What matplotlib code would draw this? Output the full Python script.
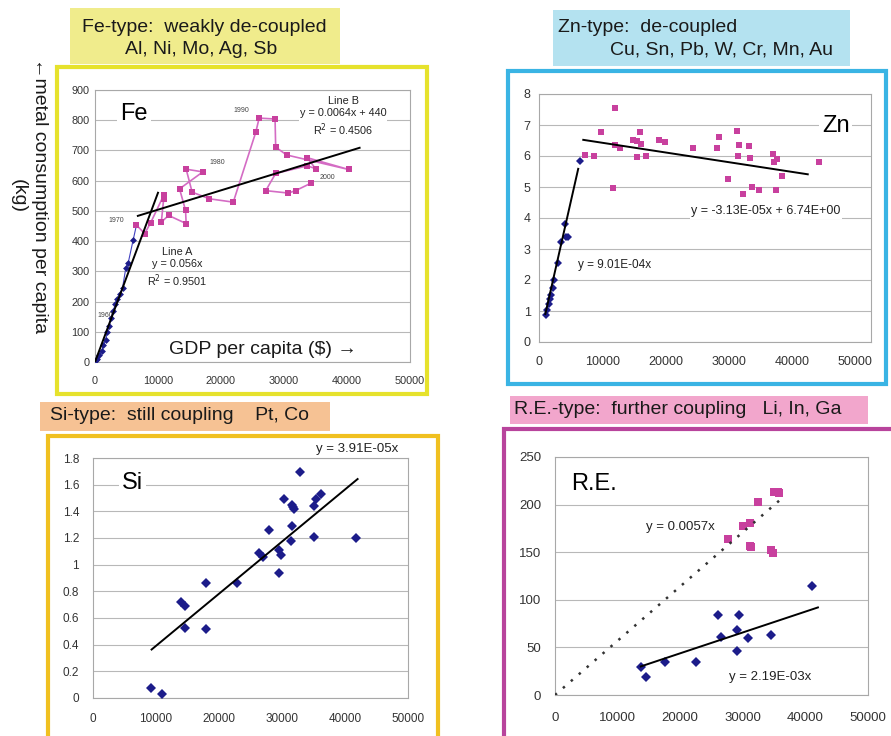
import matplotlib
matplotlib.use("Agg")
import matplotlib.pyplot as plt
from matplotlib.patches import Rectangle
from matplotlib.ticker import FuncFormatter

plt.rcParams['font.family'] = ['Liberation Sans', 'DejaVu Sans']

W, H = 891, 736

# ---------------- data ----------------
# Fe: 1950s-1960s (blue) and 1970-2005 (pink, connected by year)
fe_early_gdp = [160, 370, 680, 1050, 1320, 1680, 1950, 2260, 2530, 2890, 3210,
                3530, 3950, 4370, 4890, 5260, 6050]
fe_early_kg = [5, 11, 22, 35, 55, 74, 98, 120, 145, 169, 191, 207, 226, 245,
               311, 327, 403]
fe_late_gdp = [6580, 7890, 8840, 10890, 10890, 10530, 11680, 14470, 14370, 13420,
               17110, 14470, 15420, 18160, 21950, 25530, 26050, 28580, 28680,
               30420, 40260, 33680, 35000, 33680, 28680, 27100, 30680, 31840,
               34210]
fe_late_kg = [453, 425, 461, 551, 538, 463, 485, 458, 502, 573, 629, 638, 562,
              540, 529, 761, 807, 804, 711, 685, 637, 676, 640, 649, 624, 567,
              559, 567, 591]
fe_years = {"1960": (2530, 145), "1970": (6580, 453), "1980": (17110, 629),
            "1990": (26050, 807), "2000": (35000, 640)}
fe_lineA_slope = 0.056
fe_lineB = (0.0064, 440)

# Zn
zn_early_gdp = [1160, 1320, 1580, 1680, 1950, 2210, 2370, 3000, 3530, 4050, 4320,
                4580, 6420]
zn_early_kg = [0.86, 1.02, 1.24, 1.40, 1.51, 1.73, 1.99, 2.56, 3.22, 3.80, 3.40,
               3.40, 5.85]
zn_late_gdp = [7210, 8680, 9740, 11950, 11680, 11950, 12840, 14840, 15530, 16000,
               15470, 16160, 16950, 18950, 19950, 24320, 28160, 28530, 29840,
               31320, 31580, 31420, 33260, 33420, 32210, 33680, 34740, 37050,
               37110, 37580, 37470, 38370, 44210]
zn_late_kg = [6.04, 6.01, 6.76, 7.55, 4.96, 6.36, 6.25, 6.52, 6.50, 6.79, 5.98,
              6.38, 6.01, 6.52, 6.45, 6.25, 6.25, 6.61, 5.25, 6.82, 6.36, 6.01,
              6.33, 5.93, 4.77, 5.01, 4.91, 6.07, 5.82, 5.90, 4.91, 5.34, 5.82]
zn_early_slope = 9.01e-4
zn_late_fit = (-3.13e-5, 6.74)

# Si
si_gdp = [9210, 11000, 13890, 14680, 14580, 17890, 18000, 22890, 26320, 26950,
          28000, 29580, 29840, 29580, 30260, 31530, 31680, 31950, 31530, 31420,
          32890, 35100, 35370, 36160, 35100, 41680]
si_kg = [0.075, 0.033, 0.72, 0.69, 0.525, 0.52, 0.86, 0.86, 1.09, 1.06, 1.26,
         1.11, 1.075, 0.94, 1.49, 1.45, 1.43, 1.42, 1.29, 1.175, 1.695, 1.44,
         1.495, 1.53, 1.21, 1.20]
si_slope = 3.91e-5

# Rare earths
re_blue_gdp = [13680, 14580, 17630, 22530, 26050, 26470, 29110, 29320, 29110,
               30890, 34580, 41050]
re_blue_t = [29, 19, 35, 35, 84, 61, 46, 84, 68, 60, 63, 114]
re_pink_gdp = [27630, 30000, 31210, 31160, 31320, 32370, 34470, 34840, 35000,
               35630, 35790]
re_pink_t = [164, 178, 181, 156, 155, 203, 152, 149, 213, 213, 212]
re_pink_slope = 0.0057
re_blue_slope = 2.19e-3

# ---------------- styling ----------------
BLUE = '#1c1c8a'
PINK = '#c8409e'
PINK_LINE = '#d46cc4'
GRID = '#b8b8b8'
TICK = '#333333'
HEAD = 14

fig = plt.figure(figsize=(W / 100, H / 100), dpi=100)
fig.patch.set_facecolor('white')


def fx(px):
    return px / W


def fy(py):
    return 1 - py / H


def add_axes(left, top, right, bottom):
    return fig.add_axes([fx(left), fy(bottom), fx(right) - fx(left), (bottom - top) / H])


def style(ax, xmax, ymax, ystep, size, ypad, xpad, yfmt=None):
    ax.set_xlim(0, xmax)
    ax.set_ylim(0, ymax)
    ax.set_xticks(range(0, 50001, 10000))
    ticks = [i * ystep for i in range(int(round(ymax / ystep)) + 1)]
    ax.set_yticks(ticks)
    if yfmt:
        ax.yaxis.set_major_formatter(FuncFormatter(yfmt))
    ax.grid(axis='y', color=GRID, lw=0.8)
    ax.set_axisbelow(True)
    for s in ax.spines.values():
        s.set_color('#a8a8a8')
        s.set_linewidth(0.8)
    ax.tick_params(axis='both', labelsize=size, colors=TICK, length=0)
    ax.tick_params(axis='y', pad=ypad)
    ax.tick_params(axis='x', pad=xpad)


def frame(x0, y0, x1, y1, color, lw=3.0):
    fig.add_artist(Rectangle((fx(x0), fy(y1)), fx(x1) - fx(x0), (y1 - y0) / H,
                             transform=fig.transFigure, fill=False,
                             edgecolor=color, lw=lw, zorder=0))


def header(x0, y0, x1, y1, color):
    fig.add_artist(Rectangle((fx(x0), fy(y1)), fx(x1) - fx(x0), (y1 - y0) / H,
                             transform=fig.transFigure, facecolor=color,
                             edgecolor='none', zorder=0))


# ---------------- frames and header boxes ----------------
frame(57, 67, 427, 394, '#e6e22c')
header(70, 8, 340, 64, '#f0ec8c')
fig.text(fx(82), fy(27), 'Fe-type:  weakly de-coupled', fontsize=HEAD, va='center', color='#1a1a1a')
fig.text(fx(125), fy(50), 'Al, Ni, Mo, Ag, Sb', fontsize=HEAD, va='center', color='#1a1a1a')

frame(508, 71, 886, 384, '#3ab4e4')
header(553, 10, 850, 66, '#b4e2f0')
fig.text(fx(558), fy(27), 'Zn-type:  de-coupled', fontsize=HEAD, va='center', color='#1a1a1a')
fig.text(fx(610), fy(50), 'Cu, Sn, Pb, W, Cr, Mn, Au', fontsize=HEAD, va='center', color='#1a1a1a')

frame(48, 436, 438, 745, '#f0c020')
header(40, 402, 330, 431, '#f6c294')
fig.text(fx(50), fy(416), 'Si-type:  still coupling    Pt, Co', fontsize=HEAD, va='center', color='#1a1a1a')

frame(504, 429, 900, 745, '#b8449c')
header(510, 396, 868, 424, '#f2a6cc')
fig.text(fx(514), fy(410), 'R.E.-type:  further coupling   Li, In, Ga', fontsize=HEAD, va='center', color='#1a1a1a')

fig.text(fx(29), fy(196), '\u2190metal consumption per capita\n(kg)', rotation=270,
         fontsize=HEAD, ha='center', va='center', multialignment='center',
         linespacing=1.35, color='#1a1a1a')

# ---------------- Fe ----------------
ax = add_axes(95, 90, 410, 362)
style(ax, 50000, 900, 100, 7.8, 4, 10)
ax.plot(fe_early_gdp, fe_early_kg, '-', color='#4040c0', lw=0.8, zorder=2)
ax.plot(fe_early_gdp, fe_early_kg, 'D', color=BLUE, ms=3.5, mew=0, zorder=3)
ax.plot([fe_early_gdp[-1], fe_late_gdp[0]], [fe_early_kg[-1], fe_late_kg[0]], '-',
        color='#4040c0', lw=0.8, zorder=2)
ax.plot(fe_late_gdp, fe_late_kg, '-', color=PINK_LINE, lw=1.2, zorder=2)
ax.plot(fe_late_gdp, fe_late_kg, 's', color=PINK, ms=4, mew=0, zorder=3)
xa = [0, 10000]
ax.plot(xa, [fe_lineA_slope * v for v in xa], color='black', lw=1.4, zorder=4)
xb = [6800, 42000]
ax.plot(xb, [fe_lineB[0] * v + fe_lineB[1] for v in xb], color='black', lw=1.4, zorder=4)
for lab, (gx, gy) in fe_years.items():
    off = {"1960": (-2100, 10), "1970": (-4400, 15), "1980": (1000, 30),
           "1990": (-4000, 25), "2000": (700, -30)}[lab]
    ax.text(gx + off[0], gy + off[1], lab, fontsize=5, color='#444444', ha='left', va='center')
ax.text(4000, 822, 'Fe', fontsize=17, va='center', ha='left',
        bbox=dict(fc='white', ec='none', pad=2))
ax.text(39400, 812, 'Line B\ny = 0.0064x + 440\nR$^2$ = 0.4506', fontsize=7.8, ha='center',
        va='center', linespacing=1.25, color='#222222',
        bbox=dict(fc='white', ec='none', pad=0.5))
ax.text(13000, 311, 'Line A\ny = 0.056x\nR$^2$ = 0.9501', fontsize=7.8, ha='center',
        va='center', linespacing=1.25, color='#222222')
ax.text(11800, 40, 'GDP per capita ($) \u2192', fontsize=HEAD, ha='left', va='center', color='#1a1a1a')

# ---------------- Zn ----------------
ax = add_axes(539, 94, 871, 342)
style(ax, 52500, 8, 1, 9, 6, 10)
ax.plot(zn_early_gdp, zn_early_kg, 'D', color=BLUE, ms=4.5, mew=0, zorder=3)
ax.plot(zn_late_gdp, zn_late_kg, 's', color=PINK, ms=5, mew=0, zorder=3)
xz = [1000, 6200]
ax.plot(xz, [zn_early_slope * v for v in xz], color='black', lw=1.4, zorder=4)
xz2 = [7000, 42500]
ax.plot(xz2, [zn_late_fit[0] * v + zn_late_fit[1] for v in xz2], color='black', lw=1.4, zorder=4)
ax.text(46900, 6.96, 'Zn', fontsize=17, ha='center', va='center',
        bbox=dict(fc='white', ec='none', pad=2))
ax.text(35840, 4.21, 'y = -3.13E-05x + 6.74E+00', fontsize=9, ha='center', va='center',
        color='#222222', bbox=dict(fc='white', ec='none', pad=1))
ax.text(12000, 2.48, 'y = 9.01E-04x', fontsize=8.5, ha='center', va='center', color='#222222')

# ---------------- Si ----------------
ax = add_axes(93, 458, 408, 698)
style(ax, 50000, 1.8, 0.2, 8.5, 10, 11, lambda v, p: f'{v:g}')
ax.plot(si_gdp, si_kg, 'D', color=BLUE, ms=5, mew=0, zorder=3)
xs = [9300, 42000]
ax.plot(xs, [si_slope * v for v in xs], color='black', lw=1.4, zorder=4)
ax.text(4570, 1.61, 'Si', fontsize=17, ha='left', va='center',
        bbox=dict(fc='white', ec='none', pad=2))
ax.text(41940, 1.87, 'y = 3.91E-05x', fontsize=9.5, ha='center', va='center',
        color='#222222', clip_on=False)

# ---------------- R.E. ----------------
ax = add_axes(555, 457, 868, 695)
style(ax, 50000, 250, 50, 9.5, 10, 12)
ax.plot(re_blue_gdp, re_blue_t, 'D', color=BLUE, ms=5, mew=0, zorder=3)
ax.plot(re_pink_gdp, re_pink_t, 's', color=PINK, ms=5.5, mew=0, zorder=3)
xr = [0, 36500]
ax.plot(xr, [re_pink_slope * v for v in xr], color='#333333', lw=1.8, ls=(0, (1.0, 3.2)), zorder=4)
xr2 = [13700, 42000]
ax.plot(xr2, [re_blue_slope * v for v in xr2], color='black', lw=1.4, zorder=4)
ax.text(2600, 222, 'R.E.', fontsize=17, ha='left', va='center',
        bbox=dict(fc='white', ec='none', pad=2))
ax.text(20000, 176.6, 'y = 0.0057x', fontsize=9.5, ha='center', va='center', color='#222222')
ax.text(34360, 19.2, 'y = 2.19E-03x', fontsize=9.5, ha='center', va='center', color='#222222')

fig.savefig('out.png', dpi=100, facecolor='white')
